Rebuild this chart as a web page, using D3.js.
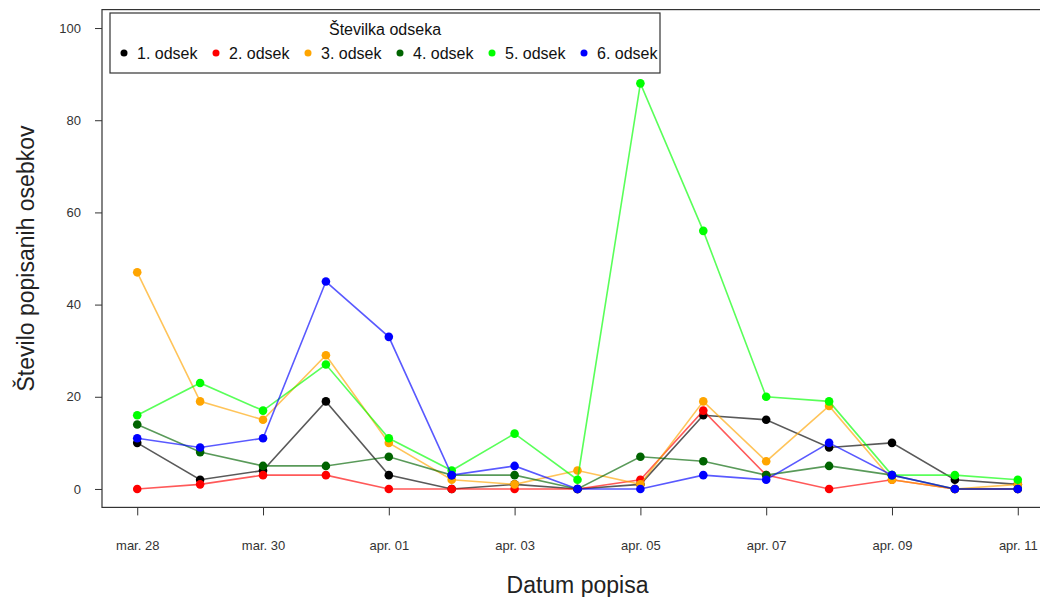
<!DOCTYPE html>
<html><head><meta charset="utf-8">
<script src="https://cdn.jsdelivr.net/npm/d3@7"></script>
<style>body{margin:0;background:#fff;} svg{display:block;font-family:"Liberation Sans",Arial,sans-serif;}</style>
</head><body>
<svg id="c" width="1040" height="597"></svg>
<script>
const dates = ["2020-03-28","2020-03-29","2020-03-30","2020-03-31","2020-04-01","2020-04-02","2020-04-03","2020-04-04","2020-04-05","2020-04-06","2020-04-07","2020-04-08","2020-04-09","2020-04-10","2020-04-11"];
const seriesNames = ["1. odsek","2. odsek","3. odsek","4. odsek","5. odsek","6. odsek"];
const seriesColors = ["#000000","#ff0000","#ffa500","#006400","#00ff00","#0000ff"];
const odsek1 = [10,2,4,19,3,0,1,0,1,16,15,9,10,2,1];
const odsek2 = [0,1,3,3,0,0,0,0,2,17,3,0,2,0,0];
const odsek3 = [47,19,15,29,10,2,1,4,1,19,6,18,2,0,1];
const odsek4 = [14,8,5,5,7,3,3,0,7,6,3,5,3,0,0];
const odsek5 = [16,23,17,27,11,4,12,2,88,56,20,19,3,3,2];
const odsek6 = [11,9,11,45,33,3,5,0,0,3,2,10,3,0,0];
const seriesValues = [odsek1,odsek2,odsek3,odsek4,odsek5,odsek6];
const yTicks = [0,20,40,60,80,100];
const xTickDates = ["2020-03-28","2020-03-30","2020-04-01","2020-04-03","2020-04-05","2020-04-07","2020-04-09","2020-04-11"];
const monthNames = ["jan.","feb.","mar.","apr.","maj","jun.","jul.","avg.","sep.","okt.","nov.","dec."];
const legendTitle = "Številka odseka";
const xTitle = "Datum popisa";
const yTitle = "Število popisanih osebkov";

const parse = d3.utcParse("%Y-%m-%d");
const dd = dates.map(parse);
const svg = d3.select("#c");
const L = 102, R = 1053, T = 9.6, B = 507.4;
const x0 = dd[0], x1 = dd[dd.length-1];
const span = x1 - x0;
const x = d3.scaleUtc().domain([new Date(+x0 - span*0.04), new Date(+x1 + span*0.04)]).range([L, R]);
const y = d3.scaleLinear().domain([-4, 104]).range([B, T]);

// box
svg.append("rect").attr("x",L).attr("y",T).attr("width",R-L).attr("height",B-T)
  .attr("fill","none").attr("stroke","#333").attr("stroke-width",1.2);

// y axis
const yAxis = d3.axisLeft(y).tickValues(yTicks).tickSize(7).tickPadding(14);
const gy = svg.append("g").attr("transform",`translate(${L},0)`).call(yAxis);
gy.select(".domain").remove();
gy.selectAll("line").attr("stroke","#333");
gy.selectAll("text").attr("font-size",13).attr("fill","#333");

// x axis
const fmt = d => monthNames[d.getUTCMonth()] + " " + String(d.getUTCDate()).padStart(2,"0");
const xAxis = d3.axisBottom(x).tickValues(xTickDates.map(parse)).tickFormat(fmt).tickSize(8).tickPadding(25);
const gx = svg.append("g").attr("transform",`translate(0,${B})`).call(xAxis);
gx.select(".domain").remove();
gx.selectAll("line").attr("stroke","#333");
gx.selectAll("text").attr("font-size",13).attr("fill","#333");

// titles
svg.append("text").attr("x",(L+R)/2).attr("y",593).attr("text-anchor","middle")
  .attr("font-size",23).attr("fill","#222").text(xTitle);
svg.append("text").attr("transform",`translate(34,${(T+B)/2}) rotate(-90)`).attr("text-anchor","middle")
  .attr("font-size",23).attr("fill","#222").text(yTitle);

// series
const line = d3.line().x((d,i)=>x(dd[i])).y(d=>y(d));
seriesValues.forEach((vals,k)=>{
  const g = svg.append("g");
  g.append("path").datum(vals).attr("d",line).attr("fill","none")
    .attr("stroke",seriesColors[k]).attr("stroke-width",1.6).attr("stroke-opacity",0.65);
  g.selectAll("circle").data(vals).join("circle")
    .attr("cx",(d,i)=>x(dd[i])).attr("cy",d=>y(d)).attr("r",4.3).attr("fill",seriesColors[k]);
});

// legend
const lg = svg.append("g");
lg.append("rect").attr("x",110).attr("y",13).attr("width",550).attr("height",60)
  .attr("fill","#fff").attr("stroke","#333").attr("stroke-width",1.2);
lg.append("text").attr("x",385).attr("y",35).attr("text-anchor","middle").attr("font-size",16).attr("fill","#111").text(legendTitle);
seriesNames.forEach((n,k)=>{
  const cx = 124 + k*92;
  lg.append("circle").attr("cx",cx).attr("cy",53).attr("r",3.5).attr("fill",seriesColors[k]);
  lg.append("text").attr("x",cx+13).attr("y",59).attr("font-size",16).attr("fill","#111").text(n);
});
</script>
</body></html>
